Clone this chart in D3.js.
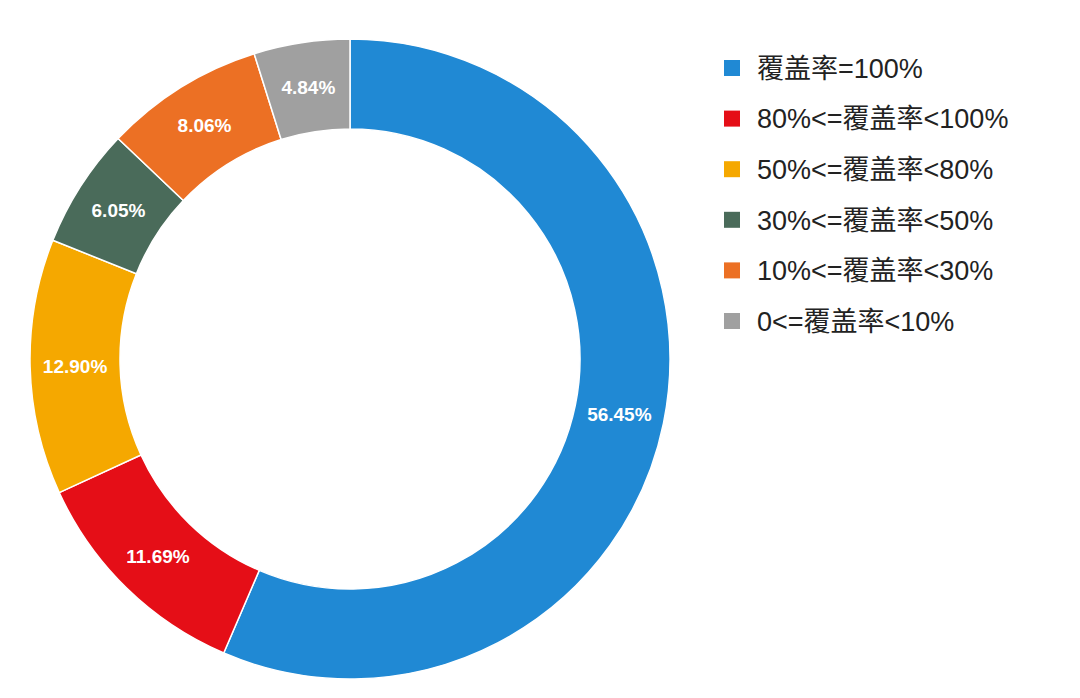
<!DOCTYPE html>
<html><head><meta charset="utf-8">
<script src="https://cdn.jsdelivr.net/npm/d3@7"></script>
<style>body{margin:0;background:#fff}</style>
</head><body><svg></svg>
<script>
const width = 1080, height = 698;
const categories = ["覆盖率=100%", "80%<=覆盖率<100%", "50%<=覆盖率<80%", "30%<=覆盖率<50%", "10%<=覆盖率<30%", "0<=覆盖率<10%"];
const values = [56.45, 11.69, 12.90, 6.05, 8.06, 4.84];
const colors = ["#2089d4", "#e50e17", "#f5a800", "#4a6b5a", "#ec7024", "#a0a0a0"];

const svg = d3.select("svg").attr("width", width).attr("height", height);
const cx = 350, cy = 359, outerR = 320, innerR = 230;

const pie = d3.pie().sort(null).value(d => d)(values);
const arc = d3.arc().innerRadius(innerR).outerRadius(outerR);
const labelArc = d3.arc().innerRadius((innerR + outerR) / 2).outerRadius((innerR + outerR) / 2);

const g = svg.append("g").attr("transform", `translate(${cx},${cy})`);
g.selectAll("path").data(pie).enter().append("path")
    .attr("d", arc)
    .attr("fill", (d, i) => colors[i])
    .attr("stroke", "#fff")
    .attr("stroke-width", 1.5);

g.selectAll("text").data(pie).enter().append("text")
    .attr("transform", d => `translate(${labelArc.centroid(d)})`)
    .attr("text-anchor", "middle")
    .attr("dy", "0.35em")
    .attr("fill", "#fff")
    .attr("font-family", "Liberation Sans, Arial, sans-serif")
    .attr("font-weight", "bold")
    .attr("font-size", 19)
    .text(d => d.data.toFixed(2) + "%");

// Legend
const legend = svg.append("g").attr("transform", "translate(724,68)");
const row = legend.selectAll("g").data(categories).enter().append("g")
    .attr("transform", (d, i) => `translate(0,${i * 50.6})`);
row.append("rect").attr("x", 0).attr("y", -8).attr("width", 16).attr("height", 16)
    .attr("fill", (d, i) => colors[i]);
row.append("text").attr("x", 33).attr("dy", "0.36em")
    .attr("font-family", "Liberation Sans, 'Noto Sans CJK SC', sans-serif")
    .attr("font-size", 27).attr("fill", "#222")
    .text(d => d);
</script></body></html>
